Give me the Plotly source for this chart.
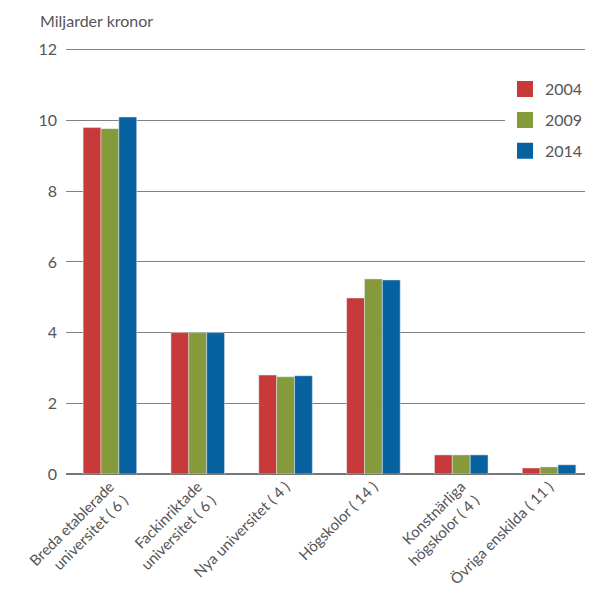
import plotly.graph_objects as go

# Kategorier och värden (miljarder kronor)
kategorier = ["Breda etablerade<br>universitet ( 6 )", "Fackinriktade<br>universitet ( 6 )",
              "Nya universitet ( 4 )", "Högskolor ( 14 )",
              "Konstnärliga<br>högskolor ( 4 )", "Övriga enskilda ( 11 )"]
v2004 = [9.8, 4.0, 2.8, 4.98, 0.54, 0.17]
v2009 = [9.77, 4.0, 2.75, 5.52, 0.54, 0.2]
v2014 = [10.1, 4.0, 2.78, 5.49, 0.54, 0.26]
ar = ["2004", "2009", "2014"]
farger = ["#C8393A", "#849A3B", "#0862A0"]

fig = go.Figure()
for namn, vals, f in zip(ar, [v2004, v2009, v2014], farger):
    fig.add_bar(x=kategorier, y=vals, name=namn, marker_color=f, showlegend=False)
# legend med större fyrkanter
for namn, f in zip(ar, farger):
    fig.add_scatter(x=[None], y=[None], mode="markers", name=namn, legendgroup=namn,
                    marker=dict(symbol="square", size=18, color=f))

# sidan har 8px marginal i body, därför lite mindre figur
fig.update_layout(
    width=585, height=586,
    margin=dict(l=58, r=0, t=39, b=120),
    plot_bgcolor="white", paper_bgcolor="white",
    font=dict(family="Lato, Open Sans, sans-serif", size=15, color="#555"),
    barmode="group", bargap=0.39, bargroupgap=0,
    legend=dict(x=0.833, y=0.941, xanchor="left", yanchor="top", bgcolor="white",
                font=dict(size=16, color="#555"), tracegroupgap=7),
    annotations=[dict(text="Miljarder kronor", xref="paper", yref="paper",
                      x=-0.053, y=1.063, xanchor="left", yanchor="middle",
                      showarrow=False, font=dict(size=16, color="#555"))],
)
fig.update_yaxes(range=[0, 12.08], tickvals=[0, 2, 4, 6, 8, 10, 12], showgrid=True,
                 gridcolor="#808080", gridwidth=1.3,
                 zeroline=True, zerolinecolor="#777", zerolinewidth=1.6, ticks="",
                 tickfont=dict(size=16, color="#555"), ticklabelstandoff=8, automargin=False)
fig.update_xaxes(tickangle=-45, ticks="", showline=False, automargin=False,
                 tickfont=dict(size=15, color="#555"))

fig.write_html("out.html")
